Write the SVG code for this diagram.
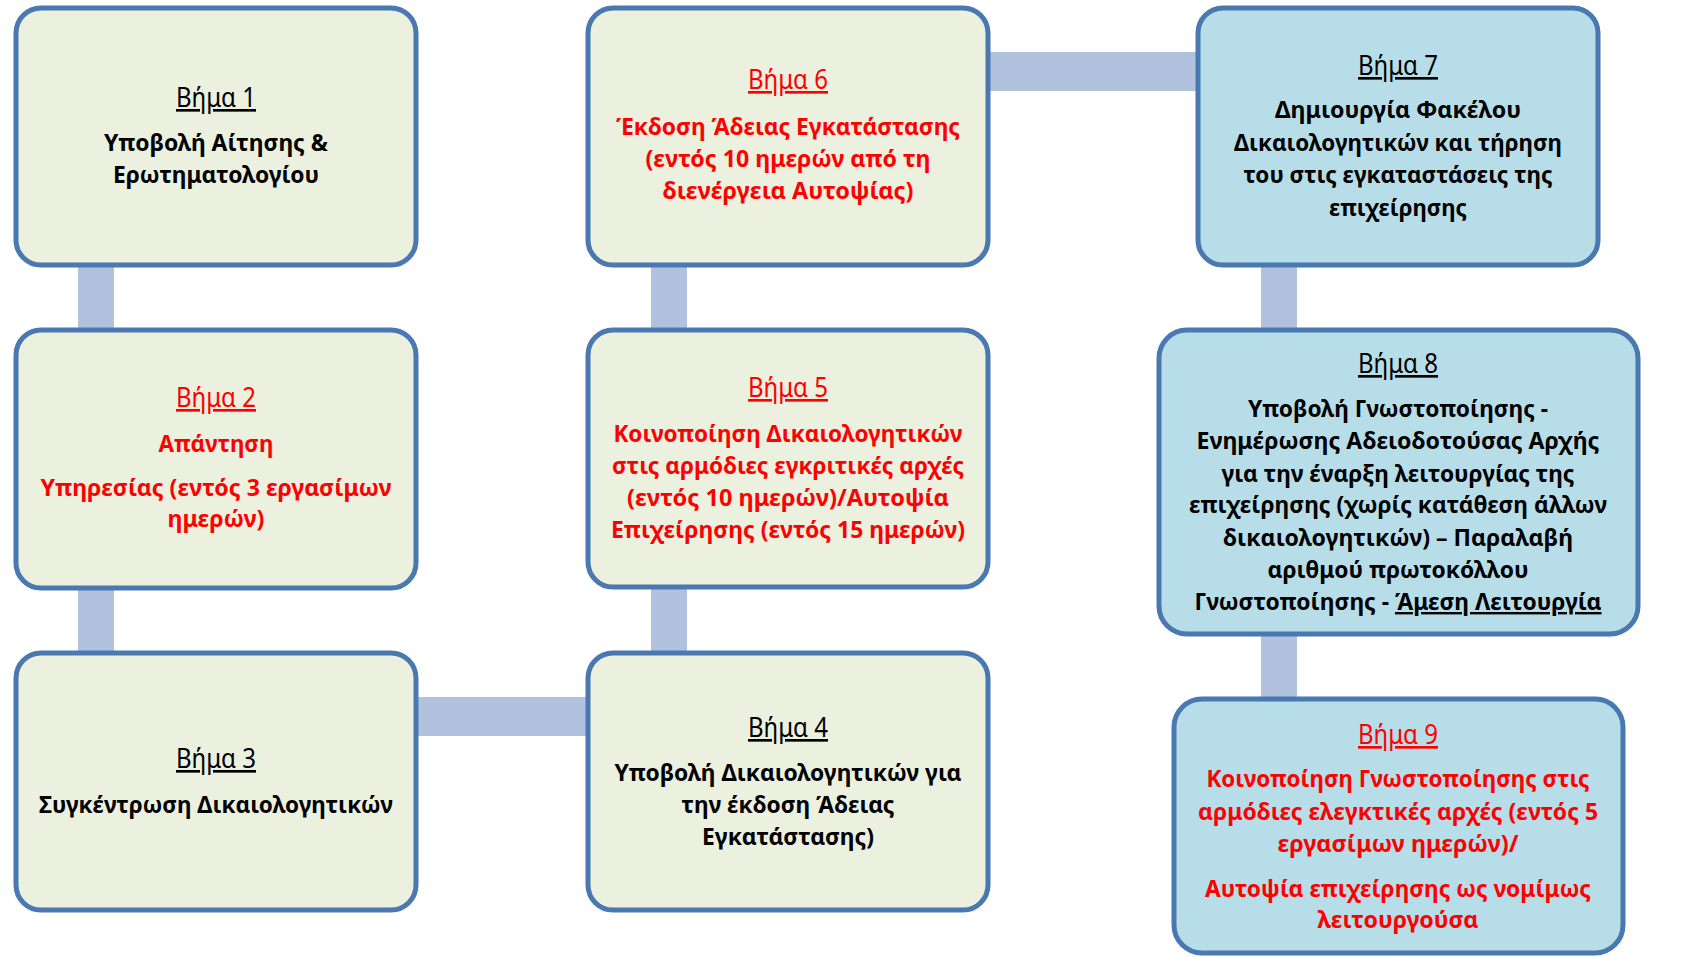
<svg xmlns="http://www.w3.org/2000/svg" width="1681" height="957" viewBox="0 0 1681 957">
<style>
.g{fill:#EBF0DF;stroke:#4A78B0;stroke-width:5}
.b{fill:#B7DDE8;stroke:#4A78B0;stroke-width:5}
.c{fill:#B0C2DD}
text{font-family:"Noto Sans","Open Sans","DejaVu Sans",sans-serif;text-anchor:middle}
.t{font-size:26.5px;font-weight:400;text-decoration:underline}
.x{font-size:24px;font-weight:700}
.k{fill:#000}
.r{fill:#FF0000}
.u{text-decoration:underline}
</style>
<rect width="1681" height="957" fill="#FFFFFF"/>
<g id="connectors">
<rect class="c" x="78" y="262" width="36" height="71"/>
<rect class="c" x="78" y="585" width="36" height="71"/>
<rect class="c" x="413" y="697" width="178" height="39"/>
<rect class="c" x="651" y="584" width="36" height="72"/>
<rect class="c" x="651" y="262" width="36" height="71"/>
<rect class="c" x="985" y="52" width="216" height="39"/>
<rect class="c" x="1261" y="262" width="36" height="71"/>
<rect class="c" x="1261" y="631" width="36" height="71"/>
</g>
<g id="step1">
<rect class="g" x="16" y="8" width="400" height="257" rx="25"/>
<text class="t k" x="216" y="107" textLength="80" lengthAdjust="spacingAndGlyphs">Βήμα 1</text>
<text class="x k" x="216" y="151" textLength="224" lengthAdjust="spacingAndGlyphs">Υποβολή Αίτησης &amp;</text>
<text class="x k" x="216" y="183" textLength="206" lengthAdjust="spacingAndGlyphs">Ερωτηματολογίου</text>
</g>
<g id="step2">
<rect class="g" x="16" y="330" width="400" height="258" rx="25"/>
<text class="t r" x="216" y="407" textLength="80" lengthAdjust="spacingAndGlyphs">Βήμα 2</text>
<text class="x r" x="216" y="452" textLength="115" lengthAdjust="spacingAndGlyphs">Απάντηση</text>
<text class="x r" x="216" y="496" textLength="351" lengthAdjust="spacingAndGlyphs">Υπηρεσίας (εντός 3 εργασίμων</text>
<text class="x r" x="216" y="527" textLength="97" lengthAdjust="spacingAndGlyphs">ημερών)</text>
</g>
<g id="step3">
<rect class="g" x="16" y="653" width="400" height="257" rx="25"/>
<text class="t k" x="216" y="768" textLength="80" lengthAdjust="spacingAndGlyphs">Βήμα 3</text>
<text class="x k" x="216" y="813" textLength="354" lengthAdjust="spacingAndGlyphs">Συγκέντρωση Δικαιολογητικών</text>
</g>
<g id="step4">
<rect class="g" x="588" y="653" width="400" height="257" rx="25"/>
<text class="t k" x="788" y="737" textLength="80" lengthAdjust="spacingAndGlyphs">Βήμα 4</text>
<text class="x k" x="788" y="781" textLength="347" lengthAdjust="spacingAndGlyphs">Υποβολή Δικαιολογητικών για</text>
<text class="x k" x="788" y="813" textLength="213" lengthAdjust="spacingAndGlyphs">την έκδοση Άδειας</text>
<text class="x k" x="788" y="845" textLength="172" lengthAdjust="spacingAndGlyphs">Εγκατάστασης)</text>
</g>
<g id="step5">
<rect class="g" x="588" y="330" width="400" height="257" rx="25"/>
<text class="t r" x="788" y="397" textLength="80" lengthAdjust="spacingAndGlyphs">Βήμα 5</text>
<text class="x r" x="788" y="442" textLength="349" lengthAdjust="spacingAndGlyphs">Κοινοποίηση Δικαιολογητικών</text>
<text class="x r" x="788" y="474" textLength="352" lengthAdjust="spacingAndGlyphs">στις αρμόδιες εγκριτικές αρχές</text>
<text class="x r" x="788" y="506" textLength="322" lengthAdjust="spacingAndGlyphs">(εντός 10 ημερών)/Αυτοψία</text>
<text class="x r" x="788" y="538" textLength="354" lengthAdjust="spacingAndGlyphs">Επιχείρησης (εντός 15 ημερών)</text>
</g>
<g id="step6">
<rect class="g" x="588" y="8" width="400" height="257" rx="25"/>
<text class="t r" x="788" y="89" textLength="80" lengthAdjust="spacingAndGlyphs">Βήμα 6</text>
<text class="x r" x="788" y="135" textLength="344" lengthAdjust="spacingAndGlyphs">Έκδοση Άδειας Εγκατάστασης</text>
<text class="x r" x="788" y="167" textLength="285" lengthAdjust="spacingAndGlyphs">(εντός 10 ημερών από τη</text>
<text class="x r" x="788" y="199" textLength="251" lengthAdjust="spacingAndGlyphs">διενέργεια Αυτοψίας)</text>
</g>
<g id="step7">
<rect class="b" x="1198" y="8" width="400" height="257" rx="25"/>
<text class="t k" x="1398" y="75" textLength="80" lengthAdjust="spacingAndGlyphs">Βήμα 7</text>
<text class="x k" x="1398" y="118" textLength="246" lengthAdjust="spacingAndGlyphs">Δημιουργία Φακέλου</text>
<text class="x k" x="1398" y="151" textLength="328" lengthAdjust="spacingAndGlyphs">Δικαιολογητικών και τήρηση</text>
<text class="x k" x="1398" y="183" textLength="309" lengthAdjust="spacingAndGlyphs">του στις εγκαταστάσεις της</text>
<text class="x k" x="1398" y="216" textLength="138" lengthAdjust="spacingAndGlyphs">επιχείρησης</text>
</g>
<g id="step8">
<rect class="b" x="1159" y="330" width="479" height="304" rx="28"/>
<text class="t k" x="1398" y="373" textLength="80" lengthAdjust="spacingAndGlyphs">Βήμα 8</text>
<text class="x k" x="1398" y="417" textLength="300" lengthAdjust="spacingAndGlyphs">Υποβολή Γνωστοποίησης -</text>
<text class="x k" x="1398" y="449" textLength="403" lengthAdjust="spacingAndGlyphs">Ενημέρωσης Αδειοδοτούσας Αρχής</text>
<text class="x k" x="1398" y="482" textLength="353" lengthAdjust="spacingAndGlyphs">για την έναρξη λειτουργίας της</text>
<text class="x k" x="1398" y="513" textLength="418" lengthAdjust="spacingAndGlyphs">επιχείρησης (χωρίς κατάθεση άλλων</text>
<text class="x k" x="1398" y="546" textLength="350" lengthAdjust="spacingAndGlyphs">δικαιολογητικών) – Παραλαβή</text>
<text class="x k" x="1398" y="578" textLength="261" lengthAdjust="spacingAndGlyphs">αριθμού πρωτοκόλλου</text>
<text class="x k" x="1398" y="610" textLength="407" lengthAdjust="spacingAndGlyphs">Γνωστοποίησης - <tspan class="u">Άμεση Λειτουργία</tspan></text>
</g>
<g id="step9">
<rect class="b" x="1174" y="699" width="449" height="254" rx="28"/>
<text class="t r" x="1398" y="744" textLength="80" lengthAdjust="spacingAndGlyphs">Βήμα 9</text>
<text class="x r" x="1398" y="787" textLength="383" lengthAdjust="spacingAndGlyphs">Κοινοποίηση Γνωστοποίησης στις</text>
<text class="x r" x="1398" y="820" textLength="400" lengthAdjust="spacingAndGlyphs">αρμόδιες ελεγκτικές αρχές (εντός 5</text>
<text class="x r" x="1398" y="852" textLength="241" lengthAdjust="spacingAndGlyphs">εργασίμων ημερών)/</text>
<text class="x r" x="1398" y="897" textLength="386" lengthAdjust="spacingAndGlyphs">Αυτοψία επιχείρησης ως νομίμως</text>
<text class="x r" x="1398" y="928" textLength="161" lengthAdjust="spacingAndGlyphs">λειτουργούσα</text>
</g>
</svg>
